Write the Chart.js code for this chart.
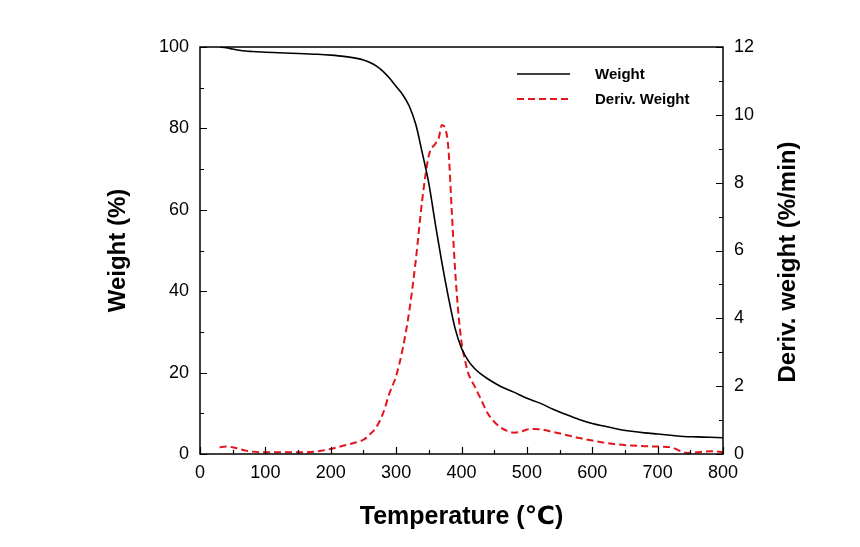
<!DOCTYPE html>
<html>
<head>
<meta charset="utf-8">
<script src="https://cdn.jsdelivr.net/npm/chart.js@4.4.1/dist/chart.umd.min.js"></script>
<style>
  html, body { margin: 0; padding: 0; background: #ffffff; }
  #wrap { width: 860px; height: 547px; }
</style>
</head>
<body>
<div id="wrap"><canvas id="c" width="860" height="547"></canvas></div>
<script>
// ---- Data ----
const weightTemps = [30, 40, 50, 60, 70, 80, 100, 120, 150, 180, 200, 220, 240, 250, 260, 270, 280, 290, 300, 310, 320, 330, 340, 350, 360, 370, 380, 390, 400, 410, 420, 430, 440, 460, 480, 500, 520, 540, 560, 580, 600, 620, 640, 660, 680, 700, 720, 740, 760, 780, 800];
const weightValues = [100, 99.8, 99.5, 99.2, 99.0, 98.9, 98.7, 98.6, 98.4, 98.2, 98.0, 97.7, 97.2, 96.8, 96.2, 95.3, 94.0, 92.3, 90.3, 88.3, 85.5, 81.0, 74.0, 66.5, 56.5, 47.0, 38.5, 31.0, 26.0, 23.0, 21.0, 19.6, 18.5, 16.6, 15.2, 13.7, 12.5, 11.0, 9.7, 8.5, 7.5, 6.8, 6.1, 5.6, 5.2, 4.9, 4.6, 4.3, 4.2, 4.1, 4.0];

const derivTemps = [30, 40, 50, 60, 70, 80, 100, 120, 140, 160, 180, 200, 220, 240, 250, 260, 270, 280, 290, 300, 310, 320, 330, 340, 350, 360, 365, 370, 375, 380, 385, 390, 395, 400, 405, 410, 420, 430, 440, 450, 460, 470, 480, 490, 500, 510, 520, 540, 560, 580, 600, 620, 640, 660, 680, 700, 720, 740, 750, 760, 780, 800];
const derivValues = [0.2, 0.22, 0.2, 0.15, 0.1, 0.07, 0.05, 0.05, 0.05, 0.05, 0.08, 0.15, 0.25, 0.35, 0.42, 0.58, 0.8, 1.2, 1.8, 2.3, 3.1, 4.2, 5.7, 7.5, 8.8, 9.15, 9.3, 9.7, 9.6, 9.0, 7.2, 5.5, 4.2, 3.3, 2.8, 2.4, 2.0, 1.6, 1.2, 0.95, 0.78, 0.68, 0.63, 0.65, 0.72, 0.74, 0.73, 0.65, 0.56, 0.47, 0.4, 0.33, 0.28, 0.25, 0.23, 0.22, 0.2, 0.05, 0.03, 0.05, 0.08, 0.06];

const xTicks = [0, 100, 200, 300, 400, 500, 600, 700, 800];
const leftTicks = [0, 20, 40, 60, 80, 100];
const rightTicks = [0, 2, 4, 6, 8, 10, 12];

const seriesLabels = ['Weight', 'Deriv. Weight'];
const xTitle = 'Temperature (\u2103)';
const leftTitle = 'Weight (%)';
const rightTitle = 'Deriv. weight (%/min)';

const FONT = '"Liberation Sans", Arial, "DejaVu Sans", sans-serif';

function toPoints(xs, ys) { return xs.map((x, i) => ({x: x, y: ys[i]})); }

// frame, inward ticks, right title and legend
const decor = {
  id: 'decor',
  afterDraw(chart) {
    const ctx = chart.ctx;
    const a = chart.chartArea;
    const sx = chart.scales.x, sl = chart.scales.y, sr = chart.scales.y2;
    ctx.save();
    ctx.strokeStyle = '#000';
    ctx.lineWidth = 1.5;
    ctx.strokeRect(a.left, a.top, a.right - a.left, a.bottom - a.top);
    ctx.lineWidth = 1.2;
    ctx.beginPath();
    for (let v = 0; v <= 800; v += 50) {
      const px = Math.round(sx.getPixelForValue(v)) + 0.5;
      const len = (v % 100 === 0) ? 7 : 4;
      ctx.moveTo(px, a.bottom); ctx.lineTo(px, a.bottom - len);
    }
    for (let v = 0; v <= 100; v += 10) {
      const py = Math.round(sl.getPixelForValue(v)) + 0.5;
      const len = (v % 20 === 0) ? 7 : 4;
      ctx.moveTo(a.left, py); ctx.lineTo(a.left + len, py);
    }
    for (let v = 0; v <= 12; v += 1) {
      const py = Math.round(sr.getPixelForValue(v)) + 0.5;
      const len = (v % 2 === 0) ? 7 : 4;
      ctx.moveTo(a.right, py); ctx.lineTo(a.right - len, py);
    }
    ctx.stroke();

    // right axis title, reading bottom to top
    ctx.fillStyle = '#000';
    ctx.font = 'bold 24px ' + FONT;
    ctx.textAlign = 'center';
    ctx.textBaseline = 'middle';
    ctx.translate(788, 262);
    ctx.rotate(-Math.PI / 2);
    ctx.fillText(rightTitle, 0, 0);
    ctx.restore();

    // legend
    ctx.save();
    const items = chart.data.datasets;
    const lx0 = 517, lx1 = 570, ty = [75, 100];
    items.forEach((ds, i) => {
      ctx.strokeStyle = ds.borderColor;
      ctx.lineWidth = ds.borderWidth;
      ctx.setLineDash(ds.borderDash || []);
      ctx.beginPath();
      ctx.moveTo(lx0, ty[i] - 1); ctx.lineTo(lx1, ty[i] - 1);
      ctx.stroke();
      ctx.setLineDash([]);
      ctx.fillStyle = '#000';
      ctx.font = 'bold 15px ' + FONT;
      ctx.textAlign = 'left';
      ctx.textBaseline = 'middle';
      ctx.fillText(ds.label, 595, ty[i]);
    });
    ctx.restore();
  }
};

new Chart(document.getElementById('c'), {
  type: 'line',
  data: {
    datasets: [
      {
        label: seriesLabels[0],
        data: toPoints(weightTemps, weightValues),
        yAxisID: 'y',
        borderColor: '#000000',
        borderWidth: 1.6,
        pointRadius: 0,
        fill: false,
        cubicInterpolationMode: 'monotone'
      },
      {
        label: seriesLabels[1],
        data: toPoints(derivTemps, derivValues),
        yAxisID: 'y2',
        borderColor: '#e3141c',
        borderWidth: 2,
        borderDash: [7, 4],
        pointRadius: 0,
        fill: false,
        cubicInterpolationMode: 'monotone'
      }
    ]
  },
  options: {
    responsive: false,
    animation: false,
    devicePixelRatio: 1,
    layout: { padding: { top: 47, left: 0, right: 0, bottom: 0 } },
    plugins: { legend: { display: false }, tooltip: { enabled: false } },
    scales: {
      x: {
        type: 'linear',
        min: 0, max: 800,
        afterBuildTicks(s) { s.ticks = xTicks.map(v => ({value: v})); },
        afterFit(s) { s.height = 93; },
        grid: { display: false, drawTicks: false },
        border: { display: false },
        ticks: { color: '#000', font: { family: FONT, size: 18 }, padding: 8, maxRotation: 0, autoSkip: false },
        title: { display: true, text: xTitle, color: '#000', font: { family: FONT, size: 25, weight: 'bold' }, padding: { top: 0, bottom: 15 } }
      },
      y: {
        type: 'linear', position: 'left',
        min: 0, max: 100,
        afterBuildTicks(s) { s.ticks = leftTicks.map(v => ({value: v})); },
        afterFit(s) { s.width = 200; },
        grid: { display: false, drawTicks: false },
        border: { display: false },
        ticks: { color: '#000', font: { family: FONT, size: 18 }, padding: 11, autoSkip: false },
        title: { display: true, text: leftTitle, color: '#000', font: { family: FONT, size: 24, weight: 'bold' }, padding: { top: 104, bottom: 0 } }
      },
      y2: {
        type: 'linear', position: 'right',
        min: 0, max: 12,
        afterBuildTicks(s) { s.ticks = rightTicks.map(v => ({value: v})); },
        afterFit(s) { s.width = 137; },
        grid: { display: false, drawTicks: false, drawOnChartArea: false },
        border: { display: false },
        ticks: { color: '#000', font: { family: FONT, size: 18 }, padding: 11, autoSkip: false }
      }
    }
  },
  plugins: [decor]
});
</script>
</body>
</html>
